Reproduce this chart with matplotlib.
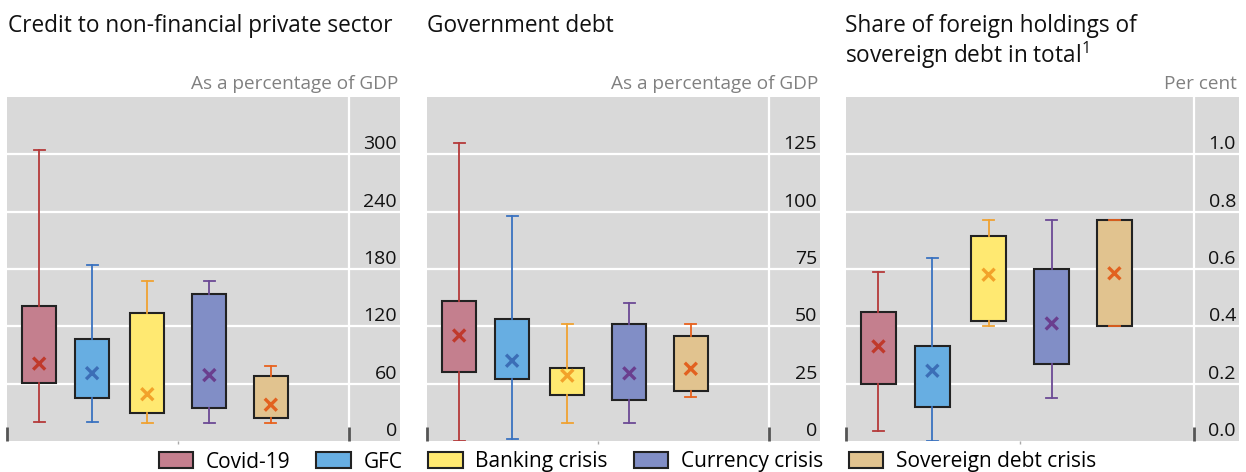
import matplotlib.pyplot as plt
from matplotlib.patches import Patch
from matplotlib.transforms import blended_transform_factory, offset_copy

plt.rcParams['font.family'] = ['Open Sans', 'DejaVu Sans']
plt.rcParams['mathtext.fontset'] = 'custom'
plt.rcParams['mathtext.rm'] = 'Open Sans'

# crisis groups
groups = ["Covid-19", "GFC", "Banking crisis", "Currency crisis", "Sovereign debt crisis"]

# credit to non-financial private sector, % of GDP
credit_lo = [20, 20, 19, 19, 19]
credit_q1 = [61, 45, 29, 35, 24]
credit_q3 = [141, 107, 134, 154, 68]
credit_hi = [305, 184, 167, 167, 78]
credit_mean = [81, 71, 49, 69, 38]

# government debt, % of GDP
gov_lo = [0, 1, 8, 8, 19]
gov_q1 = [30, 27, 20, 18, 22]
gov_q3 = [61, 53, 32, 51, 46]
gov_hi = [130, 98, 51, 60, 51]
gov_mean = [46, 35, 28.5, 29.5, 31.5]

# foreign share of sovereign debt
share_lo = [0.035, 0.0, 0.40, 0.15, 0.40]
share_q1 = [0.20, 0.12, 0.42, 0.27, 0.40]
share_q3 = [0.45, 0.33, 0.715, 0.60, 0.77]
share_hi = [0.59, 0.64, 0.77, 0.77, 0.77]
share_mean = [0.33, 0.245, 0.58, 0.41, 0.585]

credit_ticks = [0, 60, 120, 180, 240, 300]
gov_ticks = [0, 25, 50, 75, 100, 125]
share_ticks = [0.0, 0.2, 0.4, 0.6, 0.8, 1.0]

fills = ["#C47F8E", "#67AEE2", "#FFE971", "#818EC6", "#E1C38F"]
whisker_cols = ["#B53A3A", "#3A72C0", "#F0A232", "#6C4A95", "#E8621E"]
mean_cols = ["#C0392B", "#3C6EB6", "#F2A22A", "#6A3E8E", "#E2611F"]

positions = [0.56, 1.49, 2.46, 3.55, 4.63]
plot_w = 6.0
bg = "#D9D9D9"


def draw_panel(ax, lo, q1, q3, hi, mean, ticks, ymax, fmt, xmax):
    ax.set_facecolor(bg)
    stats = []
    for i in range(len(groups)):
        stats.append(dict(whislo=lo[i], q1=q1[i], med=mean[i], q3=q3[i],
                          whishi=hi[i], label=groups[i]))
    art = ax.bxp(stats, positions=positions, widths=0.6, capwidths=0.19,
                 patch_artist=True, showfliers=False,
                 medianprops=dict(linewidth=0),
                 boxprops=dict(edgecolor="#222222", linewidth=1.5),
                 whiskerprops=dict(linewidth=1.3),
                 capprops=dict(linewidth=1.3), zorder=3)
    for i, box in enumerate(art["boxes"]):
        box.set_facecolor(fills[i])
        for ln in art["whiskers"][2 * i:2 * i + 2] + art["caps"][2 * i:2 * i + 2]:
            ln.set_color(whisker_cols[i])
    ax.scatter(positions, mean, marker="x", s=75, linewidths=2.4,
               c=mean_cols, zorder=5)

    ax.set_xlim(0, xmax)
    ax.set_ylim(0, ymax)
    for t in ticks[1:]:
        ax.axhline(t, color="white", lw=1.6, zorder=1)
    ax.axvline(plot_w, color="white", lw=1.6, zorder=1)

    # value labels sit just above each gridline, right-aligned
    tr = offset_copy(blended_transform_factory(ax.transAxes, ax.transData),
                     fig=ax.figure, x=-3, y=5, units="dots")
    for t in ticks:
        ax.text(1.0, t, fmt.format(t), transform=tr, ha="right",
                va="baseline", fontsize=14, color="#111111")

    for s in ax.spines.values():
        s.set_visible(False)
    ax.set_yticks([])
    ax.set_xticks([0, plot_w])
    ax.set_xticks([plot_w / 2], minor=True)
    ax.tick_params(axis="x", which="major", direction="in", length=10,
                   width=2, color="#555555", labelbottom=False)
    ax.tick_params(axis="x", which="minor", direction="out", length=2,
                   width=1, color="#aaaaaa")


fig = plt.figure(figsize=(12.46, 4.72), dpi=100)
W, H = 1246, 472
ax_bottom = (H - 441) / H
ax_height = 344 / H

ax1 = fig.add_axes([7.3 / W, ax_bottom, 392.7 / W, ax_height])
ax2 = fig.add_axes([427.3 / W, ax_bottom, 392.7 / W, ax_height])
ax3 = fig.add_axes([846 / W, ax_bottom, 393 / W, ax_height])

draw_panel(ax1, credit_lo, credit_q1, credit_q3, credit_hi, credit_mean,
           credit_ticks, 360, "{:d}", 6.9)
draw_panel(ax2, gov_lo, gov_q1, gov_q3, gov_hi, gov_mean,
           gov_ticks, 150, "{:d}", 6.9)
draw_panel(ax3, share_lo, share_q1, share_q3, share_hi, share_mean,
           share_ticks, 1.2, "{:.1f}", 6.78)

# titles and unit labels
title_size = 16.3
fig.text(8 / W, 1 - 32 / H, "Credit to non-financial private sector",
         fontsize=title_size, va="baseline", color="#111111")
fig.text(427 / W, 1 - 32 / H, "Government debt",
         fontsize=title_size, va="baseline", color="#111111")
fig.text(845 / W, 1 - 32 / H, "Share of foreign holdings of",
         fontsize=title_size, va="baseline", color="#111111")
fig.text(845 / W, 1 - 63 / H, "sovereign debt in total$^{1}$",
         fontsize=title_size, va="baseline", color="#111111")

unit_col = "#808080"
fig.text(398 / W, 1 - 89 / H, "As a percentage of GDP", fontsize=13.7,
         ha="right", va="baseline", color=unit_col)
fig.text(818 / W, 1 - 89 / H, "As a percentage of GDP", fontsize=13.7,
         ha="right", va="baseline", color=unit_col)
fig.text(1237 / W, 1 - 89 / H, "Per cent", fontsize=13.7,
         ha="right", va="baseline", color=unit_col)

handles = [Patch(facecolor=fills[i], edgecolor="#222222", linewidth=1.5,
                 label=groups[i]) for i in range(len(groups))]
fig.legend(handles=handles, loc="center", bbox_to_anchor=(627.5 / W, 1 - 462 / H),
           ncol=5, frameon=False, fontsize=15, handlelength=1.65,
           handleheight=0.78, handletextpad=0.6, columnspacing=1.25,
           borderpad=0)

fig.savefig("out.png", dpi=100)
